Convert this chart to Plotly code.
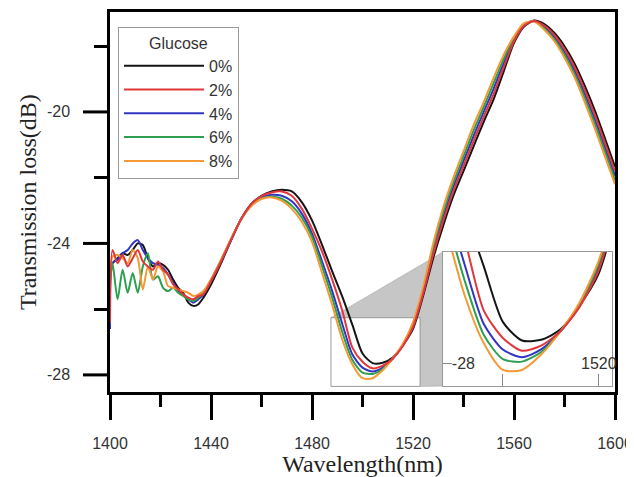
import plotly.graph_objects as go

# ---------------- data ----------------
WAVELENGTH = [1400, 1401, 1403, 1405, 1407, 1409, 1411, 1413, 1415, 1417, 1419, 1421, 1423, 1425, 1427, 1429, 1431, 1433, 1435, 1437,
              1440, 1444, 1448, 1452, 1456, 1460, 1464, 1468, 1472, 1476, 1480, 1484, 1488, 1492, 1496, 1500, 1504, 1508, 1512, 1516, 1520,
              1524, 1528, 1532, 1536, 1540, 1544, 1548, 1552, 1556, 1560, 1564, 1568, 1572, 1576, 1580, 1584, 1588, 1592, 1596, 1600]

LOSS_0 = [-24.7, -24.6, -24.45, -24.3, -24.35, -24.2, -24.0, -24.05, -24.45, -24.7, -24.6, -24.65, -24.8, -25.1, -25.35, -25.5, -25.8, -25.9, -25.85, -25.65,
          -25.25, -24.6, -23.9, -23.25, -22.8, -22.55, -22.42, -22.37, -22.42, -22.75, -23.3, -24.05, -24.85, -25.62, -26.48, -27.35, -27.64, -27.63, -27.47, -27.1, -26.6,
          -25.6, -24.45, -23.45, -22.55, -21.8, -21.05, -20.3, -19.6, -18.75, -17.9, -17.4, -17.22, -17.33, -17.6, -18.0, -18.53, -19.2, -19.95, -20.8, -21.67]

LOSS_2 = [-26.4, -24.2, -24.6, -24.35, -24.7, -24.45, -24.2, -24.55, -24.7, -24.8, -24.55, -24.8, -24.95, -25.25, -25.4, -25.55, -25.65, -25.7, -25.6, -25.55,
          -25.15, -24.55, -23.88, -23.25, -22.8, -22.56, -22.45, -22.42, -22.55, -22.95, -23.55, -24.25, -25.1, -26.05, -27.17, -27.6, -27.8, -27.72, -27.5, -27.12, -26.55,
          -25.54, -24.34, -23.31, -22.41, -21.65, -20.89, -20.15, -19.44, -18.63, -17.85, -17.38, -17.23, -17.37, -17.66, -18.09, -18.64, -19.33, -20.09, -20.94, -21.8]

LOSS_4 = [-26.6, -24.6, -24.5, -24.3, -24.2, -24.0, -23.9, -24.2, -24.45, -24.6, -24.65, -24.75, -24.95, -25.2, -25.45, -25.55, -25.7, -25.8, -25.7, -25.55,
          -25.12, -24.52, -23.87, -23.25, -22.82, -22.6, -22.52, -22.55, -22.72, -23.1, -23.7, -24.55, -25.45, -26.45, -27.38, -27.78, -27.9, -27.78, -27.5, -27.1, -26.5,
          -25.48, -24.23, -23.18, -22.28, -21.5, -20.73, -20.0, -19.28, -18.5, -17.8, -17.35, -17.23, -17.42, -17.73, -18.18, -18.74, -19.45, -20.23, -21.08, -21.94]

LOSS_6 = [-25.2, -24.6, -25.7, -24.8, -25.5, -24.9, -25.5, -24.7, -24.3, -25.1, -25.0, -25.35, -25.45, -25.35, -25.5, -25.6, -25.7, -25.75, -25.65, -25.5,
          -25.1, -24.5, -23.86, -23.26, -22.85, -22.63, -22.58, -22.64, -22.85, -23.22, -23.8, -24.7, -25.65, -26.7, -27.55, -27.93, -27.97, -27.82, -27.5, -27.08, -26.45,
          -25.41, -24.11, -23.04, -22.14, -21.35, -20.56, -19.85, -19.11, -18.38, -17.75, -17.33, -17.24, -17.46, -17.79, -18.26, -18.85, -19.58, -20.36, -21.21, -22.07]

LOSS_8 = [-24.9, -24.4, -24.35, -24.45, -24.6, -24.2, -24.45, -25.4, -24.7, -25.1, -24.7, -24.85, -25.3, -25.35, -25.4, -25.45, -25.5, -25.6, -25.55, -25.45,
          -25.1, -24.5, -23.85, -23.26, -22.86, -22.65, -22.6, -22.7, -22.95, -23.35, -23.95, -24.9, -25.87, -26.93, -27.68, -28.1, -28.1, -27.86, -27.5, -27.05, -26.4,
          -25.35, -24.0, -22.9, -22.0, -21.2, -20.4, -19.7, -18.95, -18.25, -17.7, -17.3, -17.25, -17.5, -17.85, -18.35, -18.95, -19.7, -20.5, -21.35, -22.2]

SERIES_NAMES = ["0%", "2%", "4%", "6%", "8%"]
SERIES_VALUES = [LOSS_0, LOSS_2, LOSS_4, LOSS_6, LOSS_8]
SERIES_COLORS = ["#151515", "#e2373a", "#3434c2", "#2e9f50", "#f39a36"]
DRAW_ORDER = [0, 2, 3, 4, 1]

X_TICKS = [1400, 1440, 1480, 1520, 1560, 1600]
X_MINOR = [1420, 1460, 1500, 1540, 1580]
Y_TICKS = [-28, -24, -20]
Y_TICK_LABELS = ["-28", "-24", "-20"]
Y_MINOR = [-26, -22, -18]
Y_TITLE = "Transmission loss(dB)"

INSET_X_TICKS = [1500, 1520]
INSET_X_LABELED = 1520
INSET_Y_TICKS = [-28]
INSET_Y_LABELS = ["-28"]

# ---------------- layout constants ----------------
X_RANGE = [1400, 1600]
Y_RANGE = [-28.52, -16.96]
ZOOM_X = [1487.5, 1522.8]
ZOOM_Y = [-28.35, -26.26]
INSET_DOMAIN_X = [0.6594, 0.994]
INSET_DOMAIN_Y = [0.0158, 0.3684]
PLOT_WIDTH_PX = 505
Y_MAJOR_TICK_PX = 27
Y_LABEL_GAP_PX = 38
Y_TITLE_CENTER_PX = 82


def to_paper_x(v):
    return (v - X_RANGE[0]) / (X_RANGE[1] - X_RANGE[0])


def to_paper_y(v):
    return (v - Y_RANGE[0]) / (Y_RANGE[1] - Y_RANGE[0])


fig = go.Figure()

for i in DRAW_ORDER:
    fig.add_trace(go.Scatter(
        x=WAVELENGTH, y=SERIES_VALUES[i], mode="lines", name=SERIES_NAMES[i],
        legendrank=i + 1,
        line=dict(color=SERIES_COLORS[i], width=2, shape="spline", smoothing=0.7),
        hoverinfo="skip",
    ))

for i in DRAW_ORDER:
    fig.add_trace(go.Scatter(
        x=WAVELENGTH, y=SERIES_VALUES[i], mode="lines", name=SERIES_NAMES[i],
        showlegend=False, xaxis="x2", yaxis="y2",
        line=dict(color=SERIES_COLORS[i], width=2, shape="spline", smoothing=0.7),
        hoverinfo="skip",
    ))

zx0, zx1 = to_paper_x(ZOOM_X[0]), to_paper_x(ZOOM_X[1])
zy0, zy1 = to_paper_y(ZOOM_Y[0]), to_paper_y(ZOOM_Y[1])
ix0 = INSET_DOMAIN_X[0]
iy0, iy1 = INSET_DOMAIN_Y

connector = (f"M{zx0},{zy1} L{ix0},{iy1} L{ix0},{iy0} L{zx1},{zy0} L{zx1},{zy1} Z")

shapes = [
    dict(type="path", path=connector, xref="paper", yref="paper",
         fillcolor="#c6c6c6", line=dict(color="#a8a8a8", width=0.6), layer="below"),
    dict(type="rect", xref="x", yref="y", x0=ZOOM_X[0], x1=ZOOM_X[1], y0=ZOOM_Y[0], y1=ZOOM_Y[1],
         line=dict(color="#9a9a9a", width=1), fillcolor="rgba(255,255,255,1)", layer="below"),
]

title_font = dict(family="Liberation Serif, Times New Roman, serif", size=24, color="#222")
tick_font = dict(family="Liberation Sans, Arial, sans-serif", size=16, color="#333")

annotations = [
    dict(xref="x2", yref="y2", x=INSET_X_LABELED, y=INSET_Y_TICKS[0], text=str(INSET_X_LABELED),
         showarrow=False, xanchor="center", yanchor="middle", font=tick_font),
    dict(xref="paper", yref="paper", x=-Y_TITLE_CENTER_PX / PLOT_WIDTH_PX, y=0.5, text=Y_TITLE,
         textangle=-90, showarrow=False, xanchor="center", yanchor="middle", font=title_font),
]

# long major ticks and labels of the left axis, placed at the axis values
for tv, tl in zip(Y_TICKS, Y_TICK_LABELS):
    shapes.append(dict(type="line", xref="paper", yref="paper",
                       x0=-Y_MAJOR_TICK_PX / PLOT_WIDTH_PX, x1=0, y0=to_paper_y(tv), y1=to_paper_y(tv),
                       line=dict(color="black", width=3), layer="above"))
    annotations.append(dict(xref="paper", yref="y", x=-Y_LABEL_GAP_PX / PLOT_WIDTH_PX, y=tv, text=tl,
                            showarrow=False, xanchor="right", yanchor="middle", font=tick_font))

# the page body adds an 8 px offset, so the figure is 8 px smaller and margins shifted
fig.update_layout(
    width=626, height=469,
    margin=dict(l=102, r=19, t=4, b=85, autoexpand=False),
    paper_bgcolor="white", plot_bgcolor="white",
    font=tick_font,
    showlegend=True,
    xaxis=dict(
        range=X_RANGE, domain=[0, 1], tickvals=X_TICKS, ticks="outside", ticklen=25, tickwidth=3,
        tickcolor="black", showline=True, linewidth=3, linecolor="black", mirror=True,
        showgrid=False, zeroline=False, tickfont=tick_font, ticklabelstandoff=10,
        minor=dict(tickvals=X_MINOR, ticks="outside", ticklen=12, tickwidth=3, tickcolor="black", showgrid=False),
        title=dict(text="Wavelength(nm)", font=title_font, standoff=6),
    ),
    yaxis=dict(
        range=Y_RANGE, domain=[0, 1], tickvals=Y_TICKS, ticks="", showticklabels=False,
        showline=True, linewidth=3, linecolor="black", mirror=True,
        showgrid=False, zeroline=False,
        minor=dict(tickvals=Y_MINOR, ticks="outside", ticklen=13, tickwidth=3, tickcolor="black", showgrid=False),
    ),
    # overlay axis that only carries the long major ticks of the left axis
    yaxis3=dict(
        range=Y_RANGE, overlaying="y", anchor="x", side="left", showline=False, showgrid=False,
        zeroline=False, showticklabels=False, tickmode="array", tickvals=[-100], ticks="",
        minor=dict(tickvals=Y_TICKS, ticks="outside", ticklen=Y_MAJOR_TICK_PX, tickwidth=3,
                   tickcolor="black", showgrid=False),
    ),
    xaxis2=dict(
        domain=INSET_DOMAIN_X, anchor="y2", range=ZOOM_X, tickvals=INSET_X_TICKS, showticklabels=False,
        ticks="inside", ticklen=12, tickwidth=1, tickcolor="#888",
        showline=True, linewidth=1, linecolor="#9a9a9a", mirror=True, showgrid=False, zeroline=False,
    ),
    yaxis2=dict(
        domain=INSET_DOMAIN_Y, anchor="x2", range=ZOOM_Y, tickvals=INSET_Y_TICKS, ticktext=INSET_Y_LABELS,
        ticks="inside", ticklen=9, tickwidth=1, tickcolor="#888", ticklabelposition="inside",
        showline=True, linewidth=1, linecolor="#9a9a9a", mirror=True, showgrid=False, zeroline=False,
        tickfont=tick_font,
    ),
    legend=dict(
        x=0.0158, y=0.9605, xanchor="left", yanchor="top",
        bordercolor="#9a9a9a", borderwidth=1, bgcolor="white",
        font=dict(family="Liberation Sans, Arial, sans-serif", size=16, color="#333"),
        title=dict(text="Glucose", side="top center",
                   font=dict(family="Liberation Sans, Arial, sans-serif", size=16, color="#333")),
        itemwidth=80, traceorder="normal",
    ),
    shapes=shapes,
    annotations=annotations,
)

fig.write_html("out.html")
